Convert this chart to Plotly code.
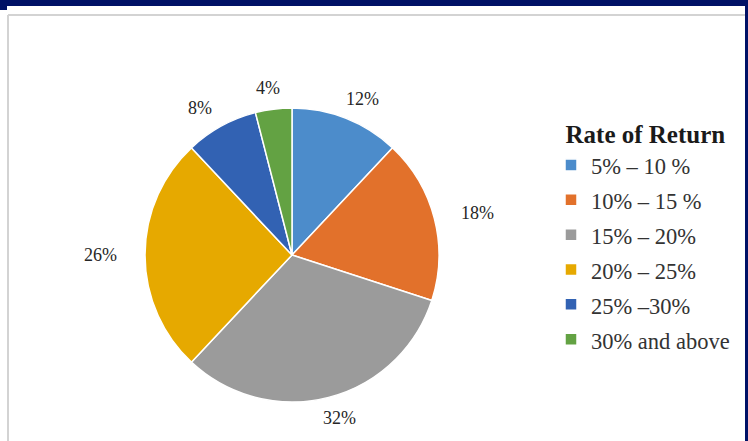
import math
import plotly.graph_objects as go

# Share of respondents by expected rate of return
categories = ["5% – 10 %", "10% – 15 %", "15% – 20%", "20% – 25%", "25% –30%", "30% and above"]
shares = [12, 18, 32, 26, 8, 4]
colors = ["#4C8CCB", "#E2712B", "#9B9B9B", "#E6A900", "#3262B3", "#63A243"]

W, H = 748, 441
CX, CY, R = 292, 255, 147          # pie centre and radius, px
LAB_A, LAB_B = 192, 168             # label ellipse semi-axes, px
FONT = "Liberation Serif, Times New Roman, serif"


def px(x):
    return x / W


def py(y):
    return 1 - y / H


# legend rows are spaced by the legend font; the entry text itself is a little smaller
legend_names = [f"<span style='font-size:22.5px'>{c}</span>" for c in categories]

fig = go.Figure()
fig.add_trace(go.Pie(
    labels=legend_names,
    values=shares,
    sort=False,
    direction="clockwise",
    rotation=0,
    marker=dict(colors=colors, line=dict(color="white", width=1.5)),
    textinfo="none",
    hoverinfo="label+percent",
    domain=dict(x=[px(CX - R), px(CX + R)], y=[py(CY + R), py(CY - R)]),
))

# Percentage labels placed outside each slice at its mid-angle
total = sum(shares)
cum = 0
annotations = []
for v in shares:
    mid = (cum + v / 2) / total * 2 * math.pi
    cum += v
    lx = CX + LAB_A * math.sin(mid)
    ly = CY - LAB_B * math.cos(mid)
    annotations.append(dict(
        x=px(lx), y=py(ly), xref="paper", yref="paper",
        text=f"{round(v / total * 100)}%", showarrow=False,
        font=dict(family=FONT, size=18, color="#262626"),
        xanchor="center", yanchor="middle",
    ))

navy = "#001166"
shapes = [
    # navy band along the top and right edge
    dict(type="rect", xref="paper", yref="paper", x0=0, x1=1, y0=py(6), y1=1,
         fillcolor=navy, line_width=0, layer="above"),
    dict(type="rect", xref="paper", yref="paper", x0=0, x1=px(7), y0=py(10), y1=py(6),
         fillcolor=navy, line_width=0, layer="above"),
    dict(type="rect", xref="paper", yref="paper", x0=px(745), x1=1, y0=0, y1=1,
         fillcolor=navy, line_width=0, layer="above"),
    # chart area frame
    dict(type="line", xref="paper", yref="paper", x0=px(8), x1=px(745), y0=py(15), y1=py(15),
         line=dict(color="#D3D3D3", width=2)),
    dict(type="line", xref="paper", yref="paper", x0=px(8), x1=px(8), y0=0, y1=py(15),
         line=dict(color="#D3D3D3", width=2)),
]

fig.update_layout(
    width=W, height=H,
    margin=dict(l=0, r=0, t=0, b=0),
    paper_bgcolor="white",
    plot_bgcolor="white",
    showlegend=True,
    legend=dict(
        x=px(551), y=py(110), xanchor="left", yanchor="top",
        title=dict(text="\u00a0\u00a0<b>Rate of Return</b>", side="top",
                   font=dict(family=FONT, size=25, color="#1a1a1a")),
        font=dict(family=FONT, size=24.5, color="#333333"),
        itemwidth=30,
        bgcolor="rgba(0,0,0,0)",
    ),
    annotations=annotations,
    shapes=shapes,
)

fig.write_html("out.html")
